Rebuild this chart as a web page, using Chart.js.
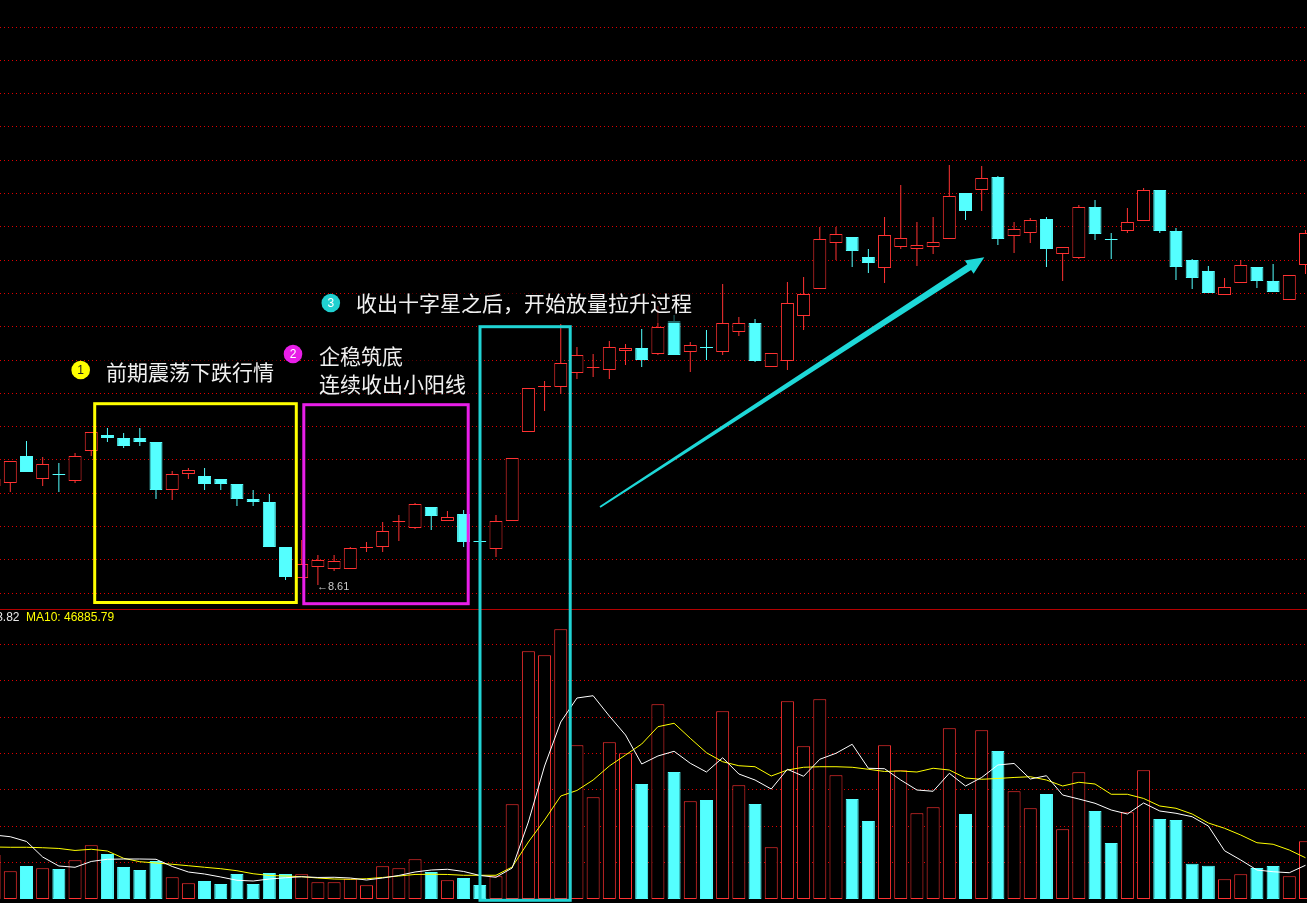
<!DOCTYPE html>
<html>
<head>
<meta charset="utf-8">
<script src="https://cdn.jsdelivr.net/npm/chart.js@4.4.1/dist/chart.umd.min.js"></script>
<style>
  html, body { margin: 0; padding: 0; background: #000; overflow: hidden; }
  #wrap { position: relative; width: 1307px; height: 903px; background: #000; }
  #priceChart { position: absolute; left: 0; top: 0; }
  #volChart { position: absolute; left: 0; top: 609px; }
  #overlay { position: absolute; left: 0; top: 0; }
  .note { font-family: "Noto Sans CJK SC", sans-serif; font-size: 21px; fill: #f0f0f0; }
  .num { font-family: "Liberation Sans", Arial, sans-serif; font-size: 12px; text-anchor: middle; }
  .vlab { font-family: "Liberation Sans", Arial, sans-serif; font-size: 12px; }
</style>
</head>
<body>
<div id="wrap">
  <canvas id="priceChart" width="1307" height="609"></canvas>
  <canvas id="volChart" width="1307" height="294"></canvas>
  <svg id="overlay" width="1307" height="903" xmlns="http://www.w3.org/2000/svg">
    <line x1="0" y1="609.5" x2="1307" y2="609.5" stroke="#b40000" stroke-width="1"/>
    <rect x="94.7" y="403.7" width="201.6" height="198.8" fill="none" stroke="#ffff00" stroke-width="3"/>
    <rect x="303.8" y="404.7" width="164.4" height="199" fill="none" stroke="#e81ee8" stroke-width="3"/>
    <rect x="480" y="326.7" width="90.2" height="573.6" fill="none" stroke="#20d4d4" stroke-width="3"/>
    <polygon points="600.5,507.8 971.1,270.0 973.6,273.8 984.3,257.3 964.8,260.4 967.3,264.2 599.5,506.2" fill="#1ed8d8"/>

    <rect x="100" y="359" width="180" height="24" fill="rgba(0,0,0,0.6)"/>
    <rect x="313" y="342" width="160" height="56" fill="rgba(0,0,0,0.6)"/>
    <rect x="357" y="284" width="342" height="39" fill="rgba(0,0,0,0.6)"/>

    <circle cx="80.7" cy="370" r="9.3" fill="#ffff00"/>
    <text class="num" x="80.7" y="370" dominant-baseline="central" fill="#222">1</text>
    <text class="note" x="106" y="371" dominant-baseline="central">前期震荡下跌行情</text>

    <circle cx="293" cy="354" r="9.3" fill="#e81ee8"/>
    <text class="num" x="293" y="354" dominant-baseline="central" fill="#fff">2</text>
    <text class="note" x="319" y="355" dominant-baseline="central">企稳筑底</text>
    <text class="note" x="319" y="383" dominant-baseline="central">连续收出小阳线</text>

    <circle cx="330.8" cy="303" r="9.3" fill="#20d0d0"/>
    <text class="num" x="330.8" y="303" dominant-baseline="central" fill="#fff">3</text>
    <text class="note" x="356" y="302" dominant-baseline="central">收出十字星之后，开始放量拉升过程</text>

    <text class="vlab" x="19.5" y="617" text-anchor="end" dominant-baseline="central" fill="#e8e8e8">MA5: 37283.82</text>
    <text class="vlab" x="26" y="617" dominant-baseline="central" fill="#ffff00">MA10: 46885.79</text>
  </svg>
</div>
<script>
// K-line chart: candles on top, volume with MA5 / MA10 below

// Day positions (index -1 is the candle cut off at the left edge)
const dayIndex = Array.from({ length: 82 }, (_, i) => i - 1);

const openP = [
    9.60, 9.63, 9.90, 9.67, 9.72, 9.65, 9.95, 10.11, 10.08, 10.08,
    10.04, 9.56, 9.72, 9.70, 9.67, 9.62, 9.47, 9.44, 8.99, 8.68,
    8.79, 8.77, 8.77, 8.98, 8.99, 9.24, 9.18, 9.39, 9.25, 9.32,
    9.05, 8.97, 9.25, 10.14, 10.59, 10.59, 10.73, 10.78, 10.76, 10.95,
    10.98, 10.92, 11.25, 10.94, 10.99, 10.94, 11.14, 11.23, 10.79, 10.85,
    11.30, 11.57, 12.03, 12.09, 11.89, 11.78, 11.99, 11.97, 11.99, 12.07,
    12.53, 12.56, 12.69, 12.10, 12.13, 12.27, 11.92, 11.88, 12.39, 12.07,
    12.15, 12.25, 12.56, 12.15, 11.86, 11.75, 11.51, 11.63, 11.79, 11.65,
    11.46, 11.81
];
const closeP = [
    9.67, 9.85, 9.74, 9.82, 9.71, 9.90, 10.14, 10.08, 10.00, 10.04,
    9.56, 9.72, 9.76, 9.62, 9.62, 9.47, 9.44, 8.99, 8.69, 8.82,
    8.86, 8.85, 8.98, 8.99, 9.15, 9.25, 9.42, 9.30, 9.29, 9.04,
    9.04, 9.25, 9.88, 10.58, 10.60, 10.83, 10.91, 10.79, 10.99, 10.98,
    10.86, 11.19, 10.91, 11.01, 10.98, 11.23, 11.23, 10.85, 10.93, 11.43,
    11.52, 12.07, 12.12, 11.95, 11.83, 12.11, 12.08, 12.01, 12.04, 12.50,
    12.35, 12.68, 12.07, 12.17, 12.26, 11.97, 11.99, 12.39, 12.12, 12.06,
    12.24, 12.56, 12.15, 11.79, 11.68, 11.53, 11.59, 11.81, 11.65, 11.54,
    11.71, 12.13
];
const highP = [
    9.69, 9.85, 10.05, 9.89, 9.83, 9.93, 10.14, 10.18, 10.13, 10.18,
    10.04, 9.75, 9.78, 9.78, 9.67, 9.62, 9.56, 9.52, 8.99, 9.06,
    8.91, 8.91, 8.99, 9.04, 9.24, 9.31, 9.43, 9.39, 9.35, 9.36,
    9.07, 9.31, 9.88, 10.58, 10.65, 11.22, 10.99, 10.92, 11.05, 11.02,
    11.17, 11.40, 11.31, 11.04, 11.16, 11.62, 11.29, 11.27, 10.93, 11.64,
    11.69, 12.19, 12.19, 12.09, 11.97, 12.29, 12.61, 12.24, 12.29, 12.81,
    12.53, 12.80, 12.70, 12.24, 12.28, 12.29, 11.99, 12.41, 12.46, 12.13,
    12.38, 12.58, 12.56, 12.18, 11.87, 11.80, 11.68, 11.86, 11.79, 11.82,
    11.71, 12.16
];
const lowP = [
    9.58, 9.54, 9.74, 9.60, 9.54, 9.63, 9.90, 10.04, 9.98, 10.00,
    9.47, 9.46, 9.67, 9.56, 9.56, 9.40, 9.40, 8.99, 8.66, 8.68,
    8.61, 8.75, 8.77, 8.94, 8.94, 9.05, 9.17, 9.16, 9.25, 8.99,
    9.01, 8.89, 9.25, 10.14, 10.35, 10.52, 10.67, 10.69, 10.67, 10.81,
    10.79, 10.91, 10.91, 10.74, 10.86, 10.91, 11.10, 10.84, 10.79, 10.76,
    11.16, 11.57, 11.86, 11.79, 11.73, 11.63, 11.97, 11.80, 11.92, 12.07,
    12.26, 12.35, 12.01, 11.93, 12.03, 11.79, 11.65, 11.87, 12.06, 11.87,
    12.13, 12.25, 12.13, 11.66, 11.57, 11.53, 11.51, 11.63, 11.58, 11.54,
    11.46, 11.72
];

const volumes = [
    48400, 30500, 36300, 33800, 33000, 42600, 59100, 49500, 35200, 31900,
    41800, 23900, 17300, 19800, 16500, 27500, 16500, 28600, 27500, 27200,
    18400, 18400, 22300, 15100, 36000, 33800, 43700, 29700, 20600, 23100,
    15400, 25000, 104200, 272500, 268100, 296700, 169100, 111900, 172400, 160300,
    126500, 214200, 139700, 107500, 108900, 206500, 125100, 104500, 56900, 217500,
    168000, 219700, 136100, 110000, 85800, 169100, 141600, 94300, 100900, 187800,
    93500, 185600, 162800, 118500, 99800, 115500, 76700, 139400, 96800, 61600,
    95400, 141600, 88000, 86900, 38800, 36600, 21700, 27200, 34100, 36300,
    25000, 63500
];
const ma5 = [
    70400, 68500, 63300, 46200, 36300, 34900, 41300, 43700, 44000, 44000,
    43700, 35800, 29700, 27500, 24200, 20600, 19800, 22000, 23400, 24500,
    23700, 23900, 23100, 20900, 23100, 25900, 29700, 31900, 32700, 30300,
    25900, 23900, 34100, 84700, 146300, 194700, 221100, 223600, 201300, 180400,
    148500, 157300, 162500, 149300, 139700, 155400, 137500, 130900, 121000, 142700,
    135000, 153700, 160300, 170200, 143800, 143300, 130900, 119900, 118500, 138300,
    124300, 133700, 147400, 149100, 132000, 135600, 114400, 110000, 105300, 97900,
    93500, 105600, 96800, 94300, 90500, 80300, 53100, 42900, 31900, 30000,
    28900, 37100
];
const ma10 = [
    57200, 56900, 56900, 56400, 55600, 53400, 54700, 52800, 44800, 41000,
    39600, 38200, 36600, 34900, 33300, 31100, 27800, 25900, 25300, 24500,
    23100, 22000, 21700, 22300, 23700, 25300, 27000, 27200, 27000, 26100,
    26100, 26100, 35200, 62700, 86900, 113300, 119400, 130900, 146300, 158400,
    170500, 189500, 193300, 176800, 160900, 151000, 146600, 145500, 135300, 141900,
    144900, 145500, 145500, 144900, 142700, 140300, 140800, 139700, 143800, 141900,
    133100, 131700, 132600, 133700, 134500, 130900, 124300, 128400, 126500, 115200,
    115200, 110600, 102300, 99800, 93500, 83600, 77800, 70400, 61900, 60200,
    53900, 45400
];

// Grid lines (dotted) of both panels
const priceGridTop = 14.19;
const priceGridStep = 0.333;
const priceGrid = Array.from({ length: 18 }, (_, k) => priceGridTop - priceGridStep * k);
const volGrid = [40000, 80000, 120000, 160000, 200000, 240000, 280000];

const RED = '#ff3232';
const CYAN = '#54ffff';
const GRID = '#e00000';

const isUp = closeP.map((c, i) => c >= openP[i]);
const candleColor = isUp.map(u => u ? RED : CYAN);
const bodyFill = isUp.map(u => u ? '#000000' : CYAN);

// shared x range (one day = one unit)
const xMin = -0.636;
const xMax = 80.093;

function xScale() {
    return { type: 'linear', min: xMin, max: xMax, offset: false, display: false };
}

function gridY(min, max, values) {
    return {
        min: min,
        max: max,
        ticks: { display: false },
        afterBuildTicks: scale => { scale.ticks = values.map(v => ({ value: v })); },
        grid: { color: GRID, lineWidth: 1, drawTicks: false },
        border: { display: false, dash: [1, 3] }
    };
}

const baseOptions = {
    responsive: false,
    maintainAspectRatio: false,
    animation: false,
    events: [],
    layout: { padding: 0 },
    plugins: { legend: { display: false }, tooltip: { enabled: false } }
};

// label at the lowest low
const lowLabel = {
    id: 'lowLabel',
    afterDatasetsDraw(chart) {
        let mi = 0;
        lowP.forEach((v, i) => { if (v < lowP[mi]) mi = i; });
        const ctx = chart.ctx;
        ctx.save();
        ctx.font = '11px "Liberation Sans", Arial, sans-serif';
        ctx.fillStyle = '#c8c8c8';
        ctx.textBaseline = 'middle';
        ctx.fillText('\u2190' + lowP[mi].toFixed(2),
            chart.scales.x.getPixelForValue(dayIndex[mi]) - 1,
            chart.scales.y.getPixelForValue(lowP[mi]) + 1.5);
        ctx.restore();
    }
};

new Chart(document.getElementById('priceChart'), {
    type: 'bar',
    data: {
        datasets: [
            {
                label: 'body',
                order: 0,
                data: dayIndex.map((d, i) => ({ x: d, y: [openP[i], closeP[i]] })),
                backgroundColor: bodyFill,
                borderColor: candleColor,
                borderWidth: 1,
                borderSkipped: false,
                inflateAmount: 0,
                barThickness: 13,
                grouped: false
            },
            {
                label: 'wick',
                order: 1,
                data: dayIndex.map((d, i) => ({ x: d, y: [lowP[i], highP[i]] })),
                backgroundColor: candleColor,
                borderWidth: 0,
                inflateAmount: 0,
                barThickness: 1,
                grouped: false
            }
        ]
    },
    options: {
        ...baseOptions,
        scales: {
            x: xScale(),
            y: gridY(8.37, 14.46, priceGrid)
        }
    },
    plugins: [lowLabel]
});

new Chart(document.getElementById('volChart'), {
    type: 'bar',
    data: {
        datasets: [
            {
                type: 'line',
                label: 'MA5',
                order: 0,
                data: dayIndex.map((d, i) => ({ x: d, y: ma5[i] })),
                borderColor: '#ffffff',
                borderWidth: 1,
                pointRadius: 0,
                tension: 0
            },
            {
                type: 'line',
                label: 'MA10',
                order: 0,
                data: dayIndex.map((d, i) => ({ x: d, y: ma10[i] })),
                borderColor: '#ffff00',
                borderWidth: 1,
                pointRadius: 0,
                tension: 0
            },
            {
                label: 'VOL',
                order: 1,
                data: dayIndex.map((d, i) => ({ x: d, y: volumes[i] })),
                backgroundColor: bodyFill,
                borderColor: candleColor,
                borderWidth: 1,
                borderSkipped: false,
                inflateAmount: 0,
                barThickness: 13,
                grouped: false
            }
        ]
    },
    options: {
        ...baseOptions,
        scales: {
            x: xScale(),
            y: gridY(-4400, 319000, volGrid)
        }
    }
});
</script>
</body>
</html>
